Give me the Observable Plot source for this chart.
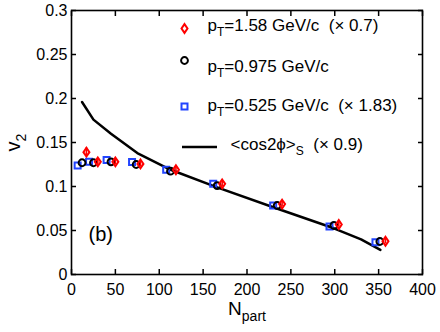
<!DOCTYPE html>
<html><head><meta charset="utf-8">
<script src="https://cdn.jsdelivr.net/npm/d3@7"></script>
<script src="https://cdn.jsdelivr.net/npm/@observablehq/plot@0.6"></script>
<style>
body{margin:0;background:#fff}
#chart svg{font-family:"Liberation Sans",Arial,Helvetica,sans-serif;overflow:visible}
#chart text{white-space:pre}
</style>
</head><body><div id="chart"></div>
<script>
// pT = 1.58 GeV/c (x 0.7)
const npartHigh = [17, 30, 50, 78.6, 119, 171.7, 240, 304.6, 357.8];
const v2High    = [0.139, 0.128, 0.128, 0.1257, 0.119, 0.103, 0.080, 0.0568, 0.0378];
const errHigh   = [0.005, 0.003, 0.003, 0.003, 0.003, 0.003, 0.003, 0.003, 0.003];
// pT = 0.975 GeV/c
const npartMid = [12, 25, 45, 73.7, 112.8, 166, 234.4, 299, 351.4];
const v2Mid    = [0.127, 0.127, 0.128, 0.125, 0.1174, 0.101, 0.0784, 0.0557, 0.0375];
// pT = 0.525 GeV/c (x 1.83)
const npartLow = [7, 20, 40, 69, 107.9, 161.5, 229.8, 294, 346.4];
const v2Low    = [0.124, 0.128, 0.130, 0.1277, 0.119, 0.103, 0.0784, 0.0545, 0.0367];
// <cos2phi>_S (x 0.9)
const npartEcc = [12, 25, 45, 75, 113, 166, 234, 299, 330, 352];
const eccVals  = [0.196, 0.176, 0.160, 0.138, 0.119, 0.099, 0.075, 0.0525, 0.040, 0.028];

const xTicks = [0, 50, 100, 150, 200, 250, 300, 350, 400];
const yTicks = [0, 0.05, 0.1, 0.15, 0.2, 0.25, 0.3];
const yTickLabels = ["0", "0.05", "0.1", "0.15", "0.2", "0.25", "0.3"];
const legendLabels = ["p_{T}=1.58 GeV/c  (\u00d7 0.7)", "p_{T}=0.975 GeV/c", "p_{T}=0.525 GeV/c  (\u00d7 1.83)", "<cos2\u03d5>_{S}  (\u00d7 0.9)"];
const xLabel = "N_{part}";
const yLabel = "v_{2}";
const panelLabel = "(b)";

const high = npartHigh.map((x, i) => ({x, y: v2High[i], e: errHigh[i]}));
const mid = npartMid.map((x, i) => ({x, y: v2Mid[i]}));
const low = npartLow.map((x, i) => ({x, y: v2Low[i]}));
const ecc = npartEcc.map((x, i) => ({x, y: eccVals[i]}));

const RED = "#ff0000", BLUE = "#2244ff", BLACK = "#000000";
const M = {left: 71, right: 18, top: 10, bottom: 58};
const W = 440, H = 332;
const TICK = 5;

const diamondSym = {draw(ctx, size) { const r = Math.sqrt(size / Math.PI); const w = r * 0.68; ctx.moveTo(0, -r); ctx.lineTo(w, 0); ctx.lineTo(0, r); ctx.lineTo(-w, 0); ctx.closePath(); }};
const squareSym = {draw(ctx, size) { const r = Math.sqrt(size / Math.PI); ctx.rect(-r, -r, 2 * r, 2 * r); }};
const circleSym = {draw(ctx, size) { const r = Math.sqrt(size / Math.PI); ctx.moveTo(r, 0); ctx.arc(0, 0, r, 0, 2 * Math.PI); }};

const symSpecs = [
  {symbol: diamondSym, stroke: RED, r: 4.4},
  {symbol: circleSym, stroke: BLACK, r: 3.4},
  {symbol: squareSym, stroke: BLUE, r: 3}
];
const legendRowDy = [8, 49, 88, 127];
const legendRowDx = [136, 136, 136, 159];
const legendSymDy = [18, 50, 96];

const legendMarks = [];
symSpecs.forEach((s, i) => {
  legendMarks.push(Plot.dot([0], {x: null, y: null, frameAnchor: "top-left", dx: 113, dy: legendSymDy[i], symbol: s.symbol, r: s.r, stroke: s.stroke, strokeWidth: 2, fill: "none"}));
});
legendLabels.forEach((t, i) => {
  legendMarks.push(Plot.text([t], {x: null, y: null, text: d => d, frameAnchor: "top-left", dx: legendRowDx[i], dy: legendRowDy[i], textAnchor: "start", fontSize: 17, fill: BLACK}));
});

const tickStyle = {tickSize: TICK, tickFormat: () => "", label: null, stroke: BLACK, strokeWidth: 1.5};

const plot = Plot.plot({
  width: W, height: H,
  marginLeft: M.left, marginRight: M.right, marginTop: M.top, marginBottom: M.bottom,
  style: {fontFamily: "Liberation Sans, Arial, sans-serif", fontSize: "16px", background: "#fff"},
  x: {domain: [0, 400]},
  y: {domain: [0, 0.3]},
  marks: [
    Plot.axisX({ticks: xTicks, tickSize: 0, tickPadding: 9, label: null, fontSize: 16}),
    Plot.axisY({ticks: yTicks, tickSize: 0, tickPadding: 4, tickFormat: (d, i) => yTickLabels[i], label: null, fontSize: 16}),
    Plot.frame({stroke: BLACK, strokeWidth: 1.6}),
    // inward ticks on all four sides
    Plot.axisX({anchor: "bottom", ticks: xTicks, dy: -TICK, ...tickStyle}),
    Plot.axisX({anchor: "top", ticks: xTicks, dy: TICK, ...tickStyle}),
    Plot.axisY({anchor: "left", ticks: yTicks, dx: TICK, ...tickStyle}),
    Plot.axisY({anchor: "right", ticks: yTicks, dx: -TICK, ...tickStyle}),
    Plot.line(ecc, {x: "x", y: "y", stroke: BLACK, strokeWidth: 2.5}),
    Plot.dot(low, {x: "x", y: "y", symbol: squareSym, r: 3, stroke: BLUE, strokeWidth: 2, fill: "none"}),
    Plot.dot(mid, {x: "x", y: "y", symbol: circleSym, r: 3.4, stroke: BLACK, strokeWidth: 2, fill: "none"}),
    Plot.ruleX(high, {x: "x", y1: d => d.y - d.e, y2: d => d.y + d.e, stroke: RED, strokeWidth: 1.6}),
    Plot.dot(high, {x: "x", y: "y", symbol: diamondSym, r: 4.4, stroke: RED, strokeWidth: 2, fill: "none"}),
    Plot.text([panelLabel], {x: null, y: null, text: d => d, frameAnchor: "bottom-left", dx: 17, dy: -34, textAnchor: "start", fontSize: 20}),
    Plot.text([xLabel], {x: null, y: null, text: d => d, frameAnchor: "bottom", dy: 40, textAnchor: "middle", fontSize: 19}),
    Plot.text([yLabel], {x: null, y: null, text: d => d, frameAnchor: "left", dx: -58, rotate: -90, textAnchor: "middle", fontSize: 20}),
    ...legendMarks
  ]
});

document.getElementById("chart").appendChild(plot);
const svg = d3.select(plot);

// legend line sample (same style as the curve)
svg.append("line").attr("x1", M.left + 111).attr("x2", M.left + 146).attr("y1", M.top + 137).attr("y2", M.top + 137).attr("stroke", BLACK).attr("stroke-width", 2.5);

// subscripts
svg.selectAll("text").each(function() {
  const t = this.textContent;
  if (!t.includes("_{")) return;
  const fs = parseFloat(getComputedStyle(this).fontSize) || 16;
  const parts = t.split(/(_\{[^}]*\})/).filter(p => p.length);
  this.textContent = "";
  let shifted = false;
  const sub = Math.round(fs * 0.3);
  parts.forEach(p => {
    const ts = document.createElementNS("http://www.w3.org/2000/svg", "tspan");
    if (p.startsWith("_{")) {
      ts.textContent = p.slice(2, -1);
      ts.setAttribute("font-size", Math.round(fs * 0.72));
      ts.setAttribute("dy", sub);
      shifted = true;
    } else {
      ts.textContent = p;
      if (shifted) { ts.setAttribute("dy", -sub); shifted = false; }
    }
    this.appendChild(ts);
  });
});
</script>
</body></html>
